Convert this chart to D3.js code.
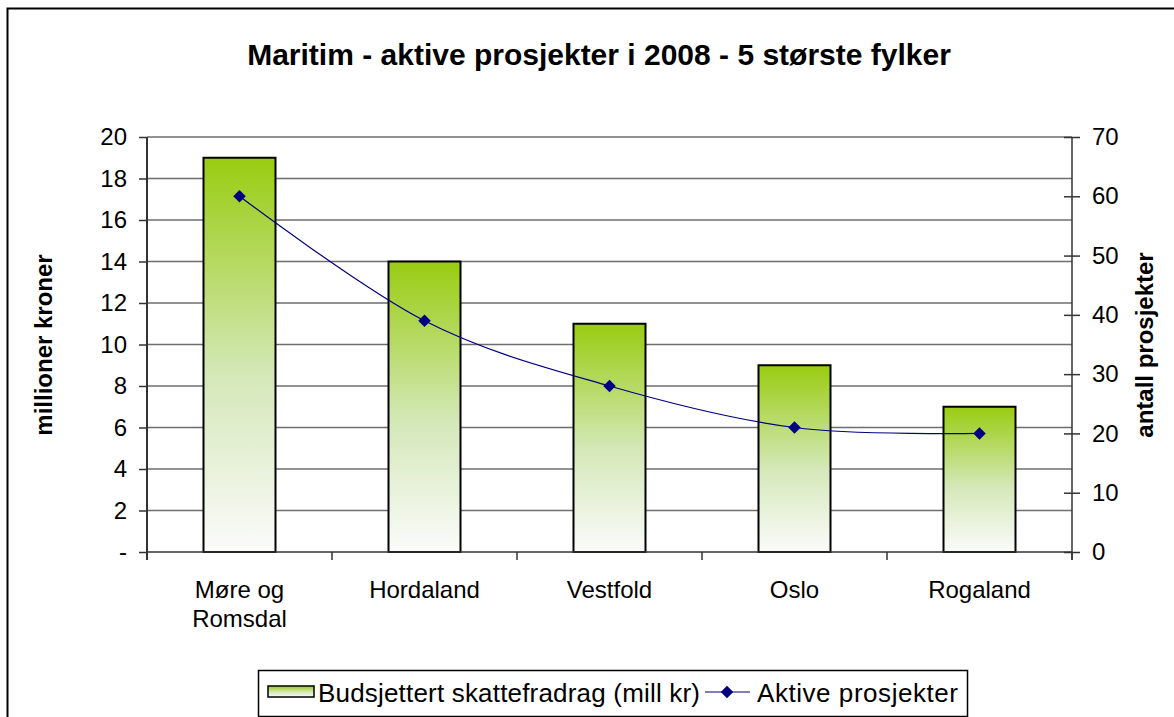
<!DOCTYPE html>
<html><head><meta charset="utf-8">
<script src="https://cdn.jsdelivr.net/npm/d3@7"></script>
<style>body{margin:0;background:#fff}svg{display:block;font-family:"Liberation Sans",Arial,sans-serif}</style>
</head><body>
<svg id="c" width="1174" height="717"></svg>
<script>
const categories = ["Møre og Romsdal", "Hordaland", "Vestfold", "Oslo", "Rogaland"];
const categoryLines = [["Møre og", "Romsdal"], ["Hordaland"], ["Vestfold"], ["Oslo"], ["Rogaland"]];
const budget = [19, 14, 11, 9, 7];
const projects = [60, 39, 28, 21, 20];
const leftTicks = [0, 2, 4, 6, 8, 10, 12, 14, 16, 18, 20];
const leftTickLabels = ["-", "2", "4", "6", "8", "10", "12", "14", "16", "18", "20"];
const rightTicks = [0, 10, 20, 30, 40, 50, 60, 70];
const title = "Maritim - aktive prosjekter i 2008 - 5 største fylker";
const seriesNames = ["Budsjettert skattefradrag (mill kr)", "Aktive prosjekter"];

const svg = d3.select("#c");
const L = 147, R = 1072, T = 137, B = 552;
const FF = "Liberation Sans, Arial, sans-serif";

const defs = svg.append("defs");
const g = defs.append("linearGradient").attr("id","gr").attr("x1",0).attr("y1",0).attr("x2",0).attr("y2",1);
g.append("stop").attr("offset","0%").attr("stop-color","#99cc11");
g.append("stop").attr("offset","55%").attr("stop-color","#d4e8b8");
g.append("stop").attr("offset","100%").attr("stop-color","#fbfbfb");

svg.append("rect").attr("x",7.5).attr("y",8.5).attr("width",1200).attr("height",760)
  .attr("fill","#fff").attr("stroke","#000").attr("stroke-width",2);

svg.append("text").attr("x",599).attr("y",65).attr("text-anchor","middle")
  .attr("font-size",30).attr("font-weight","bold").text(title);

const xb = d3.scaleBand().domain(categories).range([L, R]);
const yL = d3.scaleLinear().domain([0,20]).range([B, T]);
const yR = d3.scaleLinear().domain([0,70]).range([B, T]);

// gridlines
svg.append("g").selectAll("line").data(leftTicks.slice(1)).join("line")
  .attr("x1",L).attr("x2",R).attr("y1",d=>yL(d)).attr("y2",d=>yL(d))
  .attr("stroke","#6e6e6e").attr("stroke-width",1.5);

// bars
svg.append("g").selectAll("rect").data(categories).join("rect")
  .attr("x",d=>xb(d)+xb.bandwidth()/2-36).attr("width",72)
  .attr("y",(d,i)=>yL(budget[i])).attr("height",(d,i)=>B-yL(budget[i]))
  .attr("fill","url(#gr)").attr("stroke","#000").attr("stroke-width",2);

// left axis
const la = svg.append("g").attr("transform",`translate(${L},0)`)
  .call(d3.axisLeft(yL).tickValues(leftTicks).tickFormat((d,i)=>leftTickLabels[i]).tickSize(8).tickPadding(12));
la.select(".domain").attr("stroke","#333").attr("stroke-width",2).attr("d",`M0,${T}V${B+8}`);
la.selectAll(".tick line").attr("stroke","#333").attr("stroke-width",1.5);
la.selectAll(".tick text").attr("font-size",24).attr("fill","#000").attr("font-family",FF);

// right axis
const ra = svg.append("g").attr("transform",`translate(${R},0)`)
  .call(d3.axisRight(yR).tickValues(rightTicks).tickSize(8).tickPadding(12));
ra.select(".domain").attr("stroke","#333").attr("stroke-width",1.5).attr("d",`M0,${T}V${B+8}`);
ra.selectAll(".tick line").attr("stroke","#333").attr("stroke-width",1.5).attr("x1",-8);
ra.selectAll(".tick text").attr("font-size",24).attr("fill","#000").attr("font-family",FF);

// bottom axis
svg.append("line").attr("x1",L).attr("x2",R).attr("y1",B).attr("y2",B).attr("stroke","#333").attr("stroke-width",1.5);
const bTicks = categories.map(c=>xb(c)).concat([R]);
svg.append("g").selectAll("line").data(bTicks).join("line")
  .attr("x1",d=>d).attr("x2",d=>d).attr("y1",B).attr("y2",B+8).attr("stroke","#333").attr("stroke-width",1.5);
svg.append("g").selectAll("text").data(categories).join("text")
  .attr("x",d=>xb(d)+xb.bandwidth()/2).attr("y",598).attr("text-anchor","middle").attr("font-size",24)
  .each(function(d,i){
    const t=d3.select(this);
    categoryLines[i].forEach((s,j)=>t.append("tspan").attr("x",xb(d)+xb.bandwidth()/2).attr("dy",j?29:0).text(s));
  });

// axis titles
svg.append("text").attr("transform",`translate(52,345) rotate(-90)`).attr("text-anchor","middle")
  .attr("font-size",24).attr("font-weight","bold").text("millioner kroner");
svg.append("text").attr("transform",`translate(1153,345) rotate(-90)`).attr("text-anchor","middle")
  .attr("font-size",24).attr("font-weight","bold").text("antall prosjekter");

// line
const pts = categories.map((c,i)=>[xb(c)+xb.bandwidth()/2, yR(projects[i])]);
svg.append("path").attr("d",d3.line().curve(d3.curveCatmullRom.alpha(0))(pts))
  .attr("fill","none").attr("stroke","#000080").attr("stroke-width",1.2);
const diamond = d3.symbol().type(d3.symbolDiamond2).size(100);
svg.append("g").selectAll("path").data(pts).join("path")
  .attr("transform",d=>`translate(${d[0]},${d[1]})`).attr("d",diamond).attr("fill","#000080");

// legend
const lg = svg.append("g");
lg.append("rect").attr("x",258.5).attr("y",670.5).attr("width",709).attr("height",46)
  .attr("fill","#fff").attr("stroke","#000").attr("stroke-width",1.5);
lg.append("rect").attr("x",268).attr("y",686).attr("width",46).attr("height",11)
  .attr("fill","url(#gr)").attr("stroke","#000").attr("stroke-width",1.5);
lg.append("text").attr("x",318).attr("y",702).attr("font-size",26).attr("textLength",382).text(seriesNames[0]);
lg.append("line").attr("x1",705).attr("x2",750).attr("y1",692).attr("y2",692).attr("stroke","#000080").attr("stroke-width",1.2);
lg.append("path").attr("transform","translate(727,692)").attr("d",diamond).attr("fill","#000080");
lg.append("text").attr("x",757).attr("y",702).attr("font-size",26).attr("textLength",201).text(seriesNames[1]);
</script>
</body></html>
